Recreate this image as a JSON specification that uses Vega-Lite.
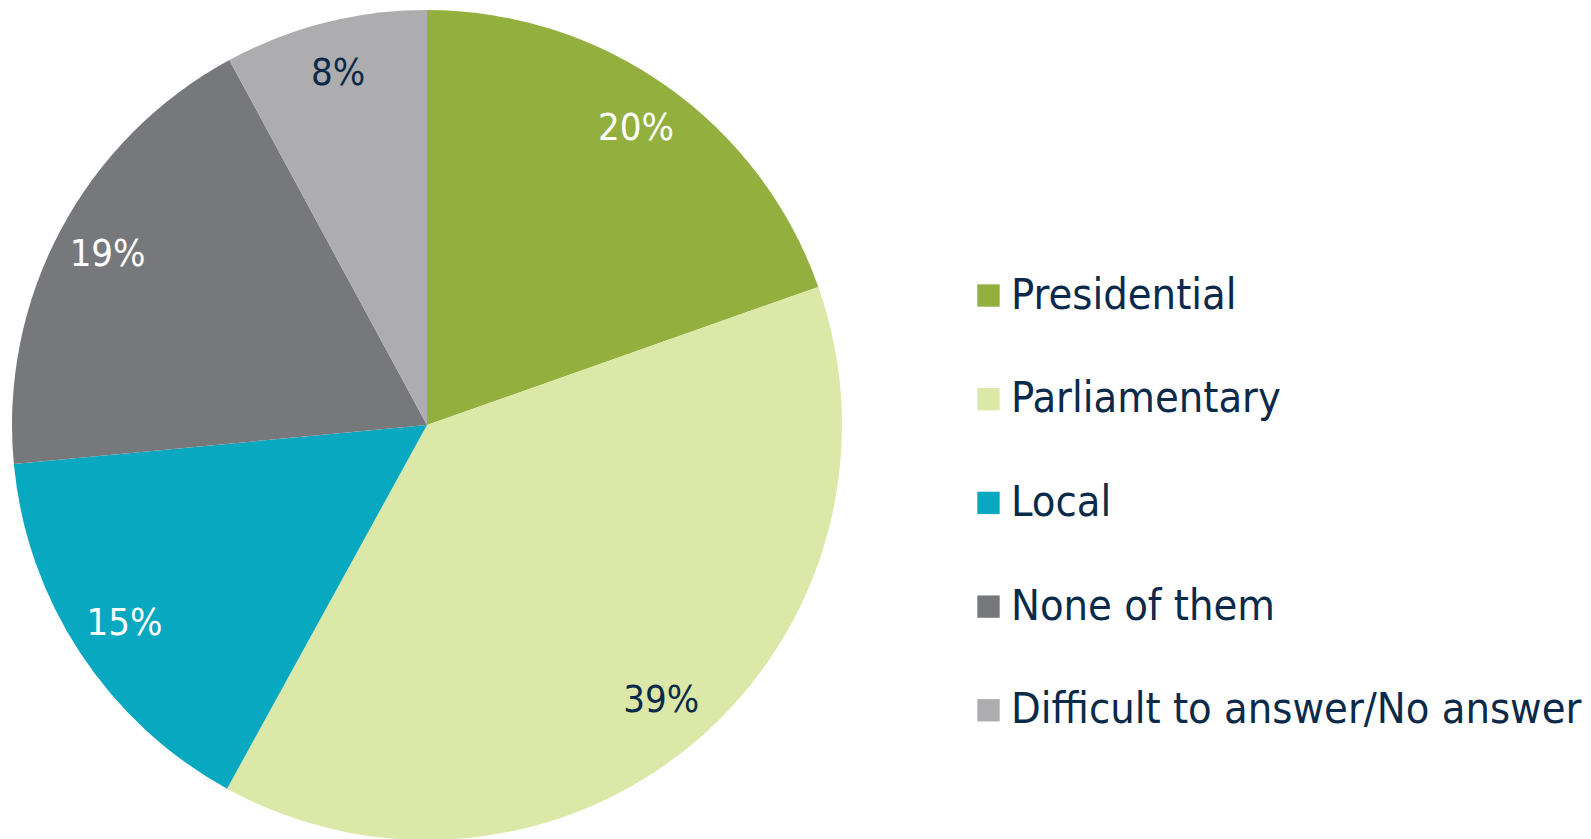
{
  "$schema": "https://vega.github.io/schema/vega-lite/v6.json",
  "width": 854,
  "height": 850,
  "padding": 0,
  "autosize": {"type": "pad"},
  "background": "white",
  "data": {"values": [
    {"category": "Presidential", "value": 19.6, "label": "20%", "ord": 1},
    {"category": "Parliamentary", "value": 38.4, "label": "39%", "ord": 2},
    {"category": "Local", "value": 15.5, "label": "15%", "ord": 3},
    {"category": "None of them", "value": 18.6, "label": "19%", "ord": 4},
    {"category": "Difficult to answer/No answer", "value": 7.9, "label": "8%", "ord": 5}
  ]},
  "encoding": {
    "theta": {"field": "value", "type": "quantitative", "stack": true},
    "order": {"field": "ord", "type": "quantitative"}
  },
  "layer": [
    {
      "mark": {"type": "arc", "outerRadius": 415},
      "encoding": {
        "color": {
          "field": "category",
          "type": "nominal",
          "sort": ["Presidential", "Parliamentary", "Local", "None of them", "Difficult to answer/No answer"],
          "scale": {
            "domain": ["Presidential", "Parliamentary", "Local", "None of them", "Difficult to answer/No answer"],
            "range": ["#93b03e", "#dce8a8", "#08a8c0", "#77787c", "#adadaf"]
          },
          "legend": {
            "title": null,
            "orient": "none",
            "legendX": 967,
            "legendY": 274,
            "symbolType": "square",
            "symbolSize": 500,
            "symbolStrokeWidth": 0,
            "labelFontSize": 43,
            "labelFont": "DejaVu Sans Condensed",
            "labelColor": "#0b2a4a",
            "labelOffset": 1,
            "labelLimit": 800,
            "rowPadding": 59.7
          }
        }
      }
    },
    {
      "mark": {"type": "text", "radius": 362, "fontSize": 38, "font": "DejaVu Sans Condensed", "align": "center", "baseline": "middle"},
      "encoding": {
        "text": {"field": "label"},
        "color": {
          "condition": {"test": "datum.category === 'Parliamentary' || datum.category === 'Difficult to answer/No answer'", "value": "#0b2a4a"},
          "value": "#ffffff"
        }
      }
    }
  ]
}
